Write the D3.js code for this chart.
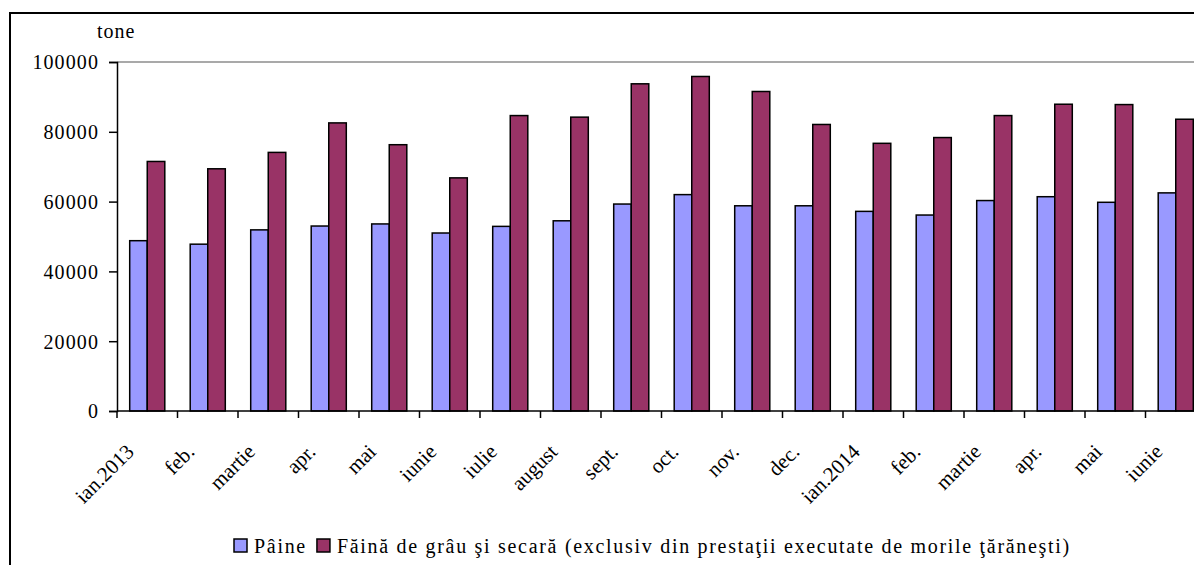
<!DOCTYPE html>
<html>
<head>
<meta charset="utf-8">
<style>
  body { margin: 0; background: #fff; }
  svg text { font-family: "Liberation Serif", "Times New Roman", serif; fill: #000; }
</style>
</head>
<body>
<div id="chart"></div>
<script src="https://d3js.org/d3.v7.min.js"></script>
<script>
// luni (ian. 2013 - iunie 2014)
var months = ["ian.2013", "feb.", "martie", "apr.", "mai", "iunie", "iulie", "august", "sept.",
              "oct.", "nov.", "dec.", "ian.2014", "feb.", "martie", "apr.", "mai", "iunie"];
var paine = [48800, 47800, 51900, 53000, 53600, 51000, 52900, 54500, 59300,
             62000, 58800, 58800, 57200, 56150, 60300, 61400, 59800, 62500];
var faina = [71500, 69400, 74100, 82550, 76300, 66800, 84650, 84200, 93750,
             95850, 91550, 82100, 76700, 78350, 84650, 87900, 87800, 83600];
var yTicks = [0, 20000, 40000, 60000, 80000, 100000];
var seriesNames = ["Pâine", "Făină de grâu şi secară (exclusiv din prestaţii executate  de morile ţărăneşti)"];
var colors = ["#9999ff", "#993366"];

var W = 1194, H = 565;
var svg = d3.select("#chart").append("svg")
    .attr("width", W)
    .attr("height", H);

// chenar exterior (taiat in dreapta si jos)
svg.append("rect")
    .attr("x", 10).attr("y", 13)
    .attr("width", 1300).attr("height", 700)
    .attr("fill", "none")
    .attr("stroke", "#000")
    .attr("stroke-width", 2);

var plotLeft = 117, plotTop = 62, plotBottom = 411;
var band = 60.5;

var x = d3.scaleBand()
    .domain(d3.range(months.length))
    .range([plotLeft, plotLeft + band * months.length])
    .padding(0);

var y = d3.scaleLinear()
    .domain([0, 100000])
    .range([plotBottom, plotTop]);

// marginea de sus a zonei graficului
svg.append("line")
    .attr("x1", plotLeft).attr("x2", W + 20)
    .attr("y1", y(100000)).attr("y2", y(100000))
    .attr("stroke", "#8c8c8c")
    .attr("stroke-width", 1.5);

var barW = x.bandwidth() * 0.29;
var offs = (x.bandwidth() - 2 * barW) / 2;

[paine, faina].forEach(function(vals, s) {
    svg.append("g").selectAll("rect")
        .data(vals)
        .enter().append("rect")
        .attr("x", function(d, i) { return x(i) + offs + s * barW; })
        .attr("y", function(d) { return y(d); })
        .attr("width", barW)
        .attr("height", function(d) { return y(0) - y(d); })
        .attr("fill", colors[s])
        .attr("stroke", "#000")
        .attr("stroke-width", 1.5);
});

// axa Y
var yAxis = svg.append("g")
    .attr("transform", "translate(" + plotLeft + ",0)")
    .call(d3.axisLeft(y).tickValues(yTicks).tickSize(8).tickPadding(10).tickFormat(d3.format("d")));
yAxis.select(".domain").attr("stroke", "#000").attr("stroke-width", 1.5);
yAxis.selectAll(".tick line").attr("stroke", "#000").attr("stroke-width", 1.5);
yAxis.selectAll("text")
    .attr("fill", "#000")
    .attr("font-family", "Liberation Serif")
    .attr("dy", "0.34em")
    .style("font-size", "20px")
    .style("letter-spacing", "1.1px");

// axa X
var xAxis = svg.append("g")
    .attr("transform", "translate(0," + plotBottom + ")");
xAxis.append("line")
    .attr("x1", plotLeft).attr("x2", W + 20)
    .attr("stroke", "#000").attr("stroke-width", 1.5);
xAxis.selectAll(".tk")
    .data(d3.range(months.length + 1))
    .enter().append("line")
    .attr("x1", function(i) { return plotLeft + i * band; })
    .attr("x2", function(i) { return plotLeft + i * band; })
    .attr("y1", 0).attr("y2", 7)
    .attr("stroke", "#000").attr("stroke-width", 1.5);
xAxis.selectAll(".lbl")
    .data(months)
    .enter().append("text")
    .attr("transform", function(d, i) {
        return "translate(" + (x(i) + x.bandwidth() / 2 - 12) + ",42) rotate(-45)";
    })
    .attr("text-anchor", "end")
    .style("font-size", "21px")
    .text(function(d) { return d; });

// unitate
svg.append("text")
    .attr("x", 97).attr("y", 38)
    .style("font-size", "20px")
    .style("letter-spacing", "1px")
    .text("tone");

// legenda
var leg = svg.append("g");
var lx = 234, ly = 553;
var t0 = leg.append("text").attr("x", lx + 20).attr("y", ly)
    .style("font-size", "20px").style("letter-spacing", "1.7px").text(seriesNames[0]);
var w0 = t0.node().getComputedTextLength();
var lx2 = lx + 20 + w0 + 10;
leg.append("text").attr("x", lx2 + 20).attr("y", ly)
    .style("font-size", "20px").style("letter-spacing", "1.7px").text(seriesNames[1]);
[lx, lx2].forEach(function(px, s) {
    leg.append("rect")
        .attr("x", px).attr("y", ly - 14)
        .attr("width", 13).attr("height", 13)
        .attr("fill", colors[s])
        .attr("stroke", "#000")
        .attr("stroke-width", 1.5);
});
</script>
</body>
</html>
